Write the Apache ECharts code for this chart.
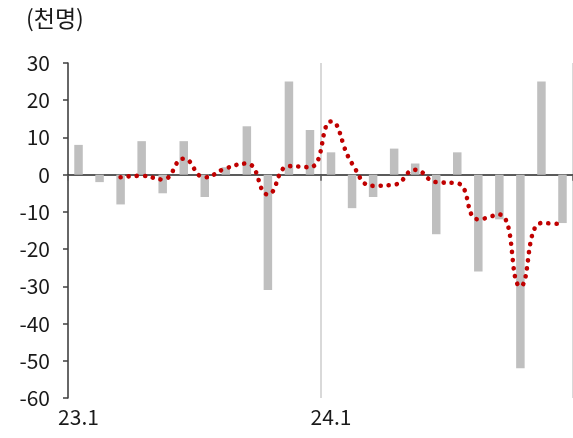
<!DOCTYPE html>
<html>
<head>
<meta charset="utf-8">
<script src="https://cdn.jsdelivr.net/npm/echarts@6/dist/echarts.min.js"></script>
<style>
  html, body { margin: 0; padding: 0; background: #fff; }
  #chart { width: 573px; height: 438px; }
</style>
</head>
<body>
<div id="chart"></div>
<script>
// Monthly change, 2023.1 – 2024.12 (thousand persons)
const months = ['23.1','23.2','23.3','23.4','23.5','23.6','23.7','23.8','23.9','23.10','23.11','23.12',
                '24.1','24.2','24.3','24.4','24.5','24.6','24.7','24.8','24.9','24.10','24.11','24.12'];
const monthlyChange = [8, -2, -8, 9, -5, 9, -6, 2, 13, -31, 25, 12,
                       6, -9, -6, 7, 3, -16, 6, -26, -12, -52, 25, -13];
// 3-month average (first two months have no value)
const avg3m = [null, null, -0.7, -0.3, -1.3, 4.3, -0.7, 1.7, 3.0, -5.3, 2.3, 2.0,
               14.3, 3.0, -3.0, -2.7, 1.3, -2.0, -2.3, -12.0, -10.7, -30.0, -13.0, -13.3];
const yTicks = { min: -60, max: 30, step: 10 };

const textFont = '"Noto Sans CJK KR", "Noto Sans", sans-serif';
const chart = echarts.init(document.getElementById('chart'), null, { renderer: 'canvas' });

chart.setOption({
  animation: false,
  backgroundColor: '#ffffff',
  title: {
    text: '(천명)',
    left: 21, top: 2,
    textStyle: { fontFamily: textFont, fontSize: 23, fontWeight: 'normal', color: '#1a1a1a' }
  },
  grid: { left: 68, right: 0, top: 63, bottom: 40, containLabel: false },
  xAxis: [
    {
      // bottom labels + yearly dividers
      type: 'category',
      data: months,
      boundaryGap: true,
      axisLine: { show: false, onZero: false },
      axisTick: { show: false },
      axisLabel: {
        interval: 11,
        margin: 9,
        fontFamily: textFont, fontSize: 21, color: '#1a1a1a'
      },
      splitLine: {
        show: true,
        interval: 11,
        lineStyle: { color: '#d9d9d9', width: 2 }
      }
    },
    {
      // zero baseline
      type: 'category',
      data: months,
      boundaryGap: true,
      position: 'bottom',
      axisLine: { show: true, onZero: true, lineStyle: { color: '#262626', width: 1.5 } },
      axisTick: { show: true, interval: 11, length: 6, inside: false, lineStyle: { color: '#595959', width: 1.5 } },
      axisLabel: { show: false },
      splitLine: { show: false }
    }
  ],
  yAxis: {
    type: 'value',
    min: yTicks.min,
    max: yTicks.max,
    interval: yTicks.step,
    axisLine: { show: true, lineStyle: { color: '#404040', width: 1.5 } },
    axisTick: { show: true, length: 5, lineStyle: { color: '#404040', width: 1.5 } },
    axisLabel: { margin: 18, fontFamily: textFont, fontSize: 21, color: '#1a1a1a' },
    splitLine: { show: false }
  },
  series: [
    {
      type: 'bar',
      data: monthlyChange,
      xAxisIndex: 0,
      barWidth: 8.5,
      itemStyle: { color: '#bfbfbf' },
      z: 2
    },
    {
      type: 'line',
      data: avg3m,
      xAxisIndex: 0,
      smooth: 0.5,
      showSymbol: false,
      connectNulls: false,
      lineStyle: { color: '#c00000', width: 4.6, type: [0.1, 8], cap: 'round' },
      z: 4
    }
  ]
});
</script>
</body>
</html>
